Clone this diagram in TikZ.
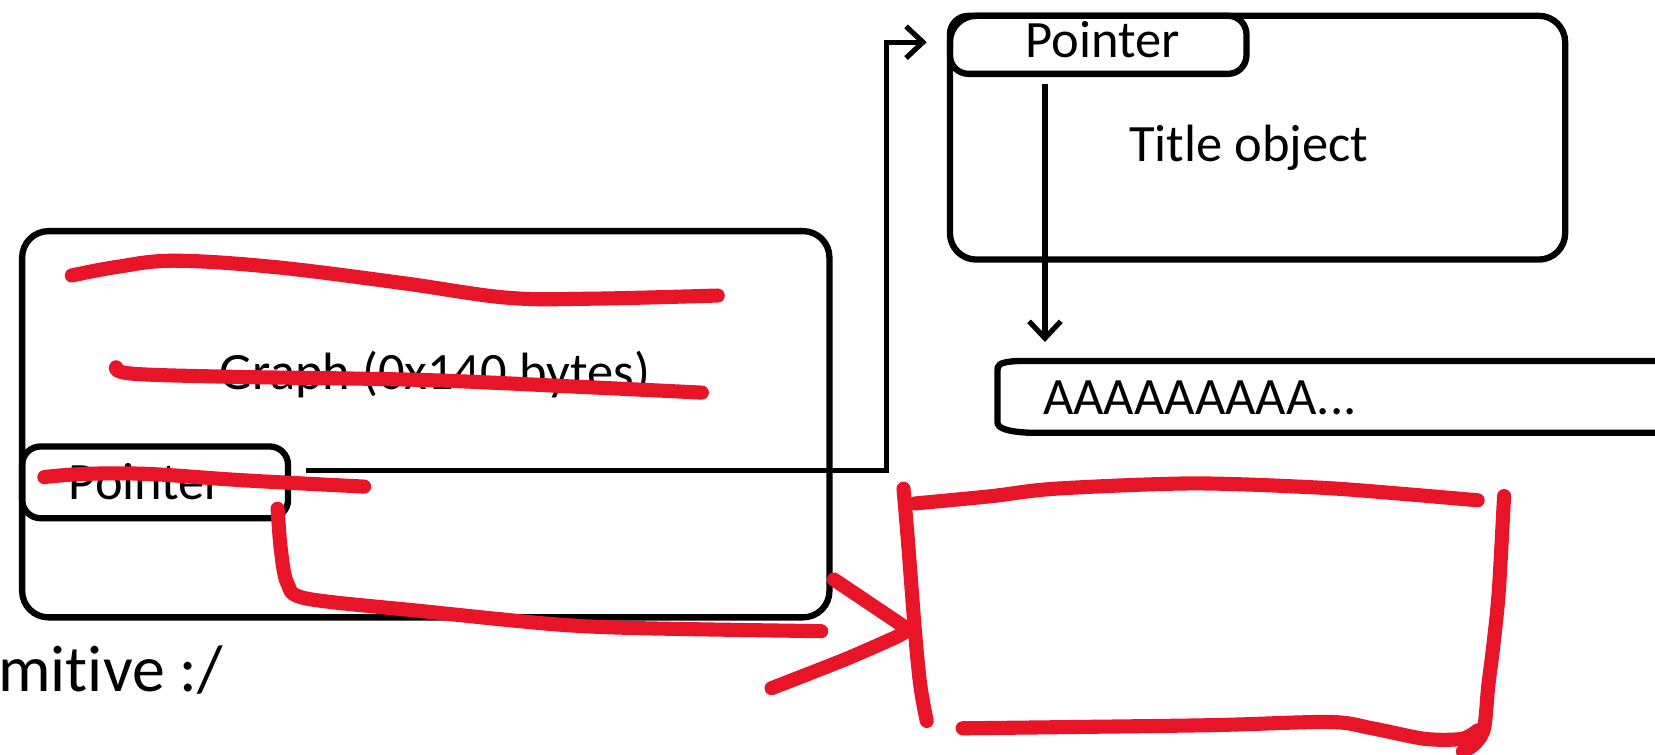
\documentclass[tikz,border=0pt]{standalone}
\usepackage{fontspec}
\setmainfont{Carlito}[Ligatures=NoCommon]
\usetikzlibrary{arrows.meta}
\definecolor{redpen}{RGB}{232,20,40}
\tikzset{
  box/.style={draw=black, line width=3.4pt, rounded corners=0.5cm, inner sep=0pt, fill=white},
  tab/.style={draw=black, line width=3.4pt, rounded corners=0.35cm, inner sep=0pt},
  lbl/.style={inner sep=0pt, font=\fontsize{28.3}{34}\selectfont},
  conn/.style={draw=black, line width=2.8pt, -{Straight Barb[length=0.32cm,width=0.6cm,line width=2.8pt]}},
  pen/.style={draw=redpen, line width=7.6pt, line cap=round, line join=round},
}
\begin{document}
\begin{tikzpicture}[x=0.02cm,y=-0.02cm]
\useasboundingbox (0,0) rectangle (1568,715);
% Graph object
\node[box, anchor=north west, minimum width=15.3cm, minimum height=7.32cm] (graph) at (18,216) {};
\node[lbl] (graphtxt) at (412,355) {Graph (0x140 bytes)};
\node[tab, anchor=north west, minimum width=5.04cm, minimum height=1.36cm] (gptr) at (18,420) {};
\node[lbl, anchor=west] (gptrtxt) at (65,456) {Pointer};
% Title object
\node[box, anchor=north west, minimum width=11.66cm, minimum height=4.62cm] (title) at (897,12) {};
\node[tab, anchor=north west, minimum width=5.62cm, minimum height=1.1cm] (tptr) at (897,12) {};
\node[lbl] (tptrtxt) at (1045,38) {Pointer};
\node[lbl] (titletxt) at (1183,140) {Title object};
% String buffer
\draw[black, line width=3.4pt] (1580,342) -- (965,342) .. controls (945,343) and (945,346) .. (945,352)
  -- (945,400) .. controls (945,406) and (955,409) .. (975,410) -- (1580,410);
\node[lbl, anchor=west] (str) at (988,377) {AAAAAAAAA...};
% connectors
\coordinate (gstart) at (290,446);
\coordinate (tin) at (878,40);
\draw[conn] (gstart) -- (840,446) -- (840,40) -- (tin);
\coordinate (tdown) at (990,80);
\coordinate (strtop) at (990,324);
\draw[conn] (tdown) -- (strtop);
% text at bottom left
\node[inner sep=0pt, anchor=base west, font=\fontsize{35.5}{40}\selectfont] (prim) at (-2,655) {mitive :/};
% red scribbles
\draw[pen] plot[smooth, tension=0.6] coordinates {(68,261) (110,253) (165,247) (260,253) (380,268) (480,282) (560,283) (680,280)};
\draw[pen] plot[smooth, tension=0.6] coordinates {(110,348) (125,354) (220,357) (400,360) (560,367) (665,372)};
\draw[pen] plot[smooth, tension=0.6] coordinates {(42,452) (80,449) (140,449) (230,455) (345,461)};
\draw[pen] plot[smooth, tension=0.5] coordinates {(263,482) (266,520) (272,552) (290,567) (400,579) (520,591) (600,595) (778,598)};
\draw[pen] (790,549) -- (860,596);
\draw[pen] plot[smooth, tension=0.4] coordinates {(731,652) (800,625) (848,604) (862,596)};
% red box
\draw[pen] plot[smooth, tension=0.5] coordinates {(856,463) (860,510) (867,600) (872,650) (878,683)};
\draw[pen] plot[smooth, tension=0.5] coordinates {(867,477) (940,470) (1000,463) (1130,458) (1250,462) (1330,468) (1400,474)};
\draw[pen] plot[smooth, tension=0.5] coordinates {(1425,470) (1420,560) (1415,610) (1410,650) (1406,690) (1397,705) (1386,712)};
\draw[pen] plot[smooth, tension=0.5] coordinates {(912,690) (1000,689) (1150,687) (1260,684) (1300,690) (1350,700) (1385,700) (1400,692)};
\end{tikzpicture}
\end{document}
